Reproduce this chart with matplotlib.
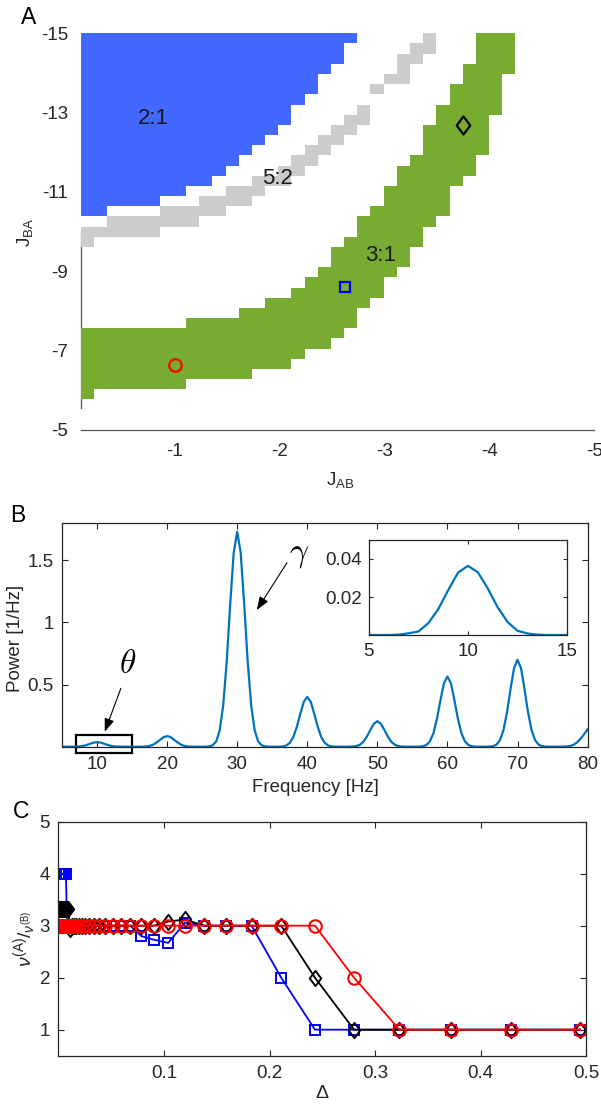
import numpy as np
import matplotlib
matplotlib.use("Agg")
import matplotlib.pyplot as plt
from matplotlib.colors import ListedColormap
from matplotlib.patches import Rectangle
from matplotlib.path import Path

plt.rcParams['font.family'] = ['Liberation Sans', 'DejaVu Sans']
plt.rcParams['mathtext.fontset'] = 'custom'
plt.rcParams['mathtext.rm'] = 'Liberation Sans'
plt.rcParams['mathtext.it'] = 'Liberation Sans:italic'
plt.rcParams['mathtext.bf'] = 'Liberation Sans:bold'
plt.rcParams['axes.unicode_minus'] = False

AX_COL = '#262626'

# ---------------- panel A data: regime map on the J_AB x J_BA grid ----------------
j_ab = np.linspace(-0.1, -5, 40)     # grid vertices
j_ba = np.linspace(-5, -15, 40)

# 2:1 region (blue): rows of j_ba cells, columns [0, stop)
blue_rows = list(range(21, 39))
blue_stop = [2, 6, 8, 10, 11, 12, 13, 14, 15, 16, 16, 17, 18, 18, 19, 20, 20, 21]

# 5:2 region (gray)
gray_rows = [18, 19, 20, 21, 22, 23, 24, 25, 26, 27, 28, 29, 30, 31, 33, 34, 35, 36, 37, 38]
gray_start = [0, 0, 2, 6, 9, 11, 13, 15, 16, 17, 18, 19, 20, 21, 22, 23, 24, 24, 25, 26]
gray_stop = [1, 6, 9, 11, 13, 14, 16, 17, 18, 19, 20, 21, 22, 22, 23, 25, 25, 26, 27, 27]

# 3:1 region (green)
green_rows = list(range(3, 39))
green_start = [0, 0, 0, 0, 0, 0, 0, 8, 12, 14, 16, 17, 18, 19, 19, 20, 21, 21,
               22, 23, 23, 24, 24, 25, 26, 26, 26, 27, 27, 28, 28, 29, 29, 30, 30, 30]
green_stop = [1, 8, 13, 16, 17, 19, 20, 21, 21, 22, 23, 23, 24, 25, 25, 26, 26, 27,
              28, 28, 28, 29, 30, 30, 31, 31, 31, 31, 32, 32, 32, 32, 33, 33, 33, 33]

region_labels = ['2:1', '5:2', '3:1']
region_label_pos = [(-0.79, -12.86), (-1.98, -11.34), (-2.96, -9.41)]
region_colors = ['#4268FF', '#CCCCCC', '#77AC30']

# example points marked in A (used in C)
pt_circle = (-1.0, -6.65)
pt_square = (-2.62, -8.6)
pt_diamond = (-3.75, -12.69)

# ---------------- panel B data: power spectrum, 0.5 Hz steps from 5 to 80 Hz ----------------
freq = np.arange(5, 80.01, 0.5)
power = [
    0, 0, 0, 0.0002, 0.0009, 0.0018, 0.0062, 0.0135, 0.0235, 0.0328,        # 5.0 - 9.5
    0.0364, 0.0330, 0.0245, 0.0145, 0.0068, 0.0022, 0.0008, 0.0002, 0, 0,   # 10.0 - 14.5
    0, 0, 0, 0.0005, 0.002, 0.0064, 0.016, 0.034, 0.056, 0.077,             # 15.0 - 19.5
    0.085, 0.077, 0.056, 0.034, 0.016, 0.0064, 0.002, 0.0005, 0, 0,         # 20.0 - 24.5
    0, 0.0004, 0.0022, 0.011, 0.042, 0.131, 0.330, 0.683, 1.144, 1.560,     # 25.0 - 29.5
    1.730, 1.560, 1.144, 0.683, 0.330, 0.131, 0.042, 0.011, 0.0022, 0.0004, # 30.0 - 34.5
    0, 0.0001, 0.0005, 0.0025, 0.0097, 0.030, 0.076, 0.158, 0.264, 0.361,   # 35.0 - 39.5
    0.400, 0.361, 0.264, 0.158, 0.076, 0.030, 0.0097, 0.0025, 0.0005, 0.0001,  # 40.0 - 44.5
    0, 0.0001, 0.0003, 0.0013, 0.005, 0.0155, 0.039, 0.081, 0.135, 0.185,   # 45.0 - 49.5
    0.205, 0.185, 0.135, 0.081, 0.039, 0.0155, 0.005, 0.0013, 0.0003, 0.0001,  # 50.0 - 54.5
    0, 0.0001, 0.0007, 0.0036, 0.0137, 0.043, 0.108, 0.223, 0.373, 0.510,   # 55.0 - 59.5
    0.565, 0.510, 0.373, 0.223, 0.108, 0.043, 0.0137, 0.0036, 0.0007, 0.0001,  # 60.0 - 64.5
    0, 0.0002, 0.0009, 0.0044, 0.017, 0.053, 0.134, 0.277, 0.463, 0.631,    # 65.0 - 69.5
    0.700, 0.631, 0.463, 0.277, 0.134, 0.053, 0.017, 0.0044, 0.0009, 0.0002,  # 70.0 - 74.5
    0, 0, 0.0003, 0.0008, 0.002, 0.006, 0.015, 0.035, 0.064, 0.100,         # 75.0 - 79.5
    0.140,                                                                  # 80.0
]

# ---------------- panel C data: rate ratio vs heterogeneity ----------------
delta = [0.0010, 0.0011, 0.0013, 0.0015, 0.0017, 0.0020, 0.0023, 0.0027, 0.0031,
         0.0035, 0.0041, 0.0047, 0.0054, 0.0062, 0.0071, 0.0082, 0.0094, 0.0109,
         0.0125, 0.0144, 0.0166, 0.0191, 0.0220, 0.0253, 0.0292, 0.0336, 0.0387,
         0.0446, 0.0513, 0.0591, 0.0681, 0.0785, 0.0904, 0.104, 0.120, 0.138,
         0.159, 0.183, 0.211, 0.243, 0.280, 0.323, 0.372, 0.429, 0.494]
ratio_square = [4] * 15 + [3] * 16 + [2.8, 2.73, 2.67, 3.06, 3, 3, 3, 2, 1, 1, 1, 1, 1, 1]
ratio_diamond = [3.33] * 17 + [2.93] + [3] * 15 + [3.08, 3.12, 3, 3, 3, 3, 2, 1, 1, 1, 1, 1]
ratio_circle = [3] * 40 + [2, 1, 1, 1, 1]

# closed diamond, a bit narrower than tall (like the reference)
diamond = Path([(0, 1), (0.75, 0), (0, -1), (-0.75, 0), (0, 1)],
               [Path.MOVETO, Path.LINETO, Path.LINETO, Path.LINETO, Path.CLOSEPOLY])


def px_rect(left, top, right, bottom, W=601, H=1105):
    return [left / W, 1 - bottom / H, (right - left) / W, (bottom - top) / H]


def style_box(ax, length=4):
    for s in ax.spines.values():
        s.set_color(AX_COL)
        s.set_linewidth(0.9)
    ax.tick_params(direction='in', top=True, right=True, length=length, width=0.8,
                   color=AX_COL, labelcolor=AX_COL, labelsize=13.5)


fig = plt.figure(figsize=(6.01, 11.05), dpi=100)

# ================= A =================
axA = fig.add_axes(px_rect(80.6, 33.3, 594.5, 430))
regime = np.zeros((39, 39))
for r, stop in zip(blue_rows, blue_stop):
    regime[r, 0:stop] = 1
for r, a, b in zip(gray_rows, gray_start, gray_stop):
    regime[r, a:b] = 2
for r, a, b in zip(green_rows, green_start, green_stop):
    regime[r, a:b] = 3
regime = np.ma.masked_equal(regime, 0)
axA.pcolormesh(j_ab, j_ba, regime, cmap=ListedColormap(region_colors),
               vmin=0.5, vmax=3.5, antialiased=False, zorder=3)
axA.set_xlim(-0.1, -5)
axA.set_ylim(-5, -15)
axA.set_xticks([-1, -2, -3, -4, -5])
axA.set_yticks([-15, -13, -11, -9, -7, -5])
for s in ['top', 'right']:
    axA.spines[s].set_visible(False)
for s in ['left', 'bottom']:
    axA.spines[s].set_color('#555555')
    axA.spines[s].set_linewidth(0.9)
axA.spines['left'].set_bounds(-9.97, -5.56)
axA.tick_params(length=0, labelcolor=AX_COL, labelsize=13.5, pad=9)
for lab, (x, y) in zip(region_labels, region_label_pos):
    axA.text(x, y, lab, fontsize=16, color='#1a1a1a', ha='center', va='center', zorder=5)
axA.plot(*pt_circle, 'o', ms=9, mfc='none', mec='red', mew=1.6, zorder=6)
axA.plot(*pt_square, 's', ms=7, mfc='none', mec='blue', mew=1.6, zorder=6)
axA.plot(*pt_diamond, marker=diamond, ms=13, mfc='none', mec='black', mew=1.6,
         ls='none', zorder=6)
fig.text(25 / 601, 1 - 232 / 1105, r'J$_{\mathregular{BA}}$', rotation=90,
         ha='center', va='center', fontsize=13.5, color=AX_COL)
fig.text(340 / 601, 1 - 480 / 1105, r'J$_{\mathregular{AB}}$',
         ha='center', va='center', fontsize=13.5, color=AX_COL)

# ================= B =================
axB = fig.add_axes(px_rect(62, 523, 587.6, 746.7))
axB.plot(freq, power, color='#0072BD', lw=1.6)
axB.set_xlim(5, 80)
axB.set_ylim(0, 1.8)
axB.set_xticks([10, 20, 30, 40, 50, 60, 70, 80])
axB.set_yticks([0.5, 1, 1.5])
axB.set_yticklabels(['0.5', '1', '1.5'])
style_box(axB)
axB.tick_params(axis='x', pad=7)
axB.tick_params(axis='y', pad=6)
axB.add_patch(Rectangle((7, -0.053), 8, 0.147, fill=False, lw=1.6, ec='k', clip_on=False))
arrow = dict(arrowstyle='-|>,head_length=0.8,head_width=0.3', color='k', lw=0.8,
             shrinkA=0, shrinkB=0, mutation_scale=10)
axB.annotate('', xy=(32.8, 1.10), xytext=(37.1, 1.48), arrowprops=arrow)
axB.annotate('', xy=(11.1, 0.12), xytext=(13.4, 0.47), arrowprops=arrow)
axB.text(38.8, 1.55, r'$\gamma$', math_fontfamily='cm', fontsize=24, ha='center', va='center')
axB.text(14.4, 0.66, r'$\theta$', math_fontfamily='cm', fontsize=24, ha='center', va='center')
fig.text(15.4 / 601, 1 - 638 / 1105, 'Power [1/Hz]', rotation=90,
         ha='center', va='center', fontsize=13.5, color=AX_COL)
fig.text(315.7 / 601, 1 - 788 / 1105, 'Frequency [Hz]',
         ha='center', va='center', fontsize=13.5, color=AX_COL)

# inset
axI = fig.add_axes(px_rect(368.7, 540, 567.2, 635))
axI.plot(freq, power, color='#0072BD', lw=1.6)
axI.set_xlim(5, 15)
axI.set_ylim(0, 0.05)
axI.set_xticks([5, 10, 15])
axI.set_yticks([0.02, 0.04])
axI.set_yticklabels(['0.02', '0.04'])
style_box(axI, length=3)
axI.tick_params(axis='x', pad=6)
axI.tick_params(axis='y', pad=5)

# ================= C =================
axC = fig.add_axes(px_rect(58.4, 821.7, 586.4, 1055.7))
axC.plot(delta, ratio_square, '-s', color='blue', ms=7, mfc='none', mew=1.4, lw=1.3)
axC.plot(delta, ratio_diamond, '-', marker=diamond, color='black', ms=11, mfc='none',
         mew=1.4, lw=1.3)
axC.plot(delta, ratio_circle, '-o', color='red', ms=9, mfc='none', mew=1.5, lw=1.3)
axC.set_xlim(0, 0.5)
axC.set_ylim(0.5, 5)
axC.set_xticks([0.1, 0.2, 0.3, 0.4, 0.5])
axC.set_xticklabels(['0.1', '0.2', '0.3', '0.4', '0.5'])
axC.set_yticks([1, 2, 3, 4, 5])
style_box(axC)
axC.tick_params(axis='x', pad=7)
axC.tick_params(axis='y', pad=6)
fig.text(25 / 601, 1 - 939 / 1105, r'$\nu^{\mathregular{(A)}}/_{\nu^{\mathregular{(B)}}}$',
         rotation=90, ha='center', va='center', fontsize=14, color=AX_COL)
fig.text(321.8 / 601, 1 - 1093 / 1105, '\u0394', ha='center', va='center',
         fontsize=14, color=AX_COL)

# panel letters
fig.text(29 / 601, 1 - 18 / 1105, 'A', fontsize=16.5, ha='center', va='center')
fig.text(17.3 / 601, 1 - 515 / 1105, 'B', fontsize=16.5, ha='center', va='center')
fig.text(21 / 601, 1 - 812 / 1105, 'C', fontsize=16.5, ha='center', va='center')

fig.savefig('out.png', dpi=100)
